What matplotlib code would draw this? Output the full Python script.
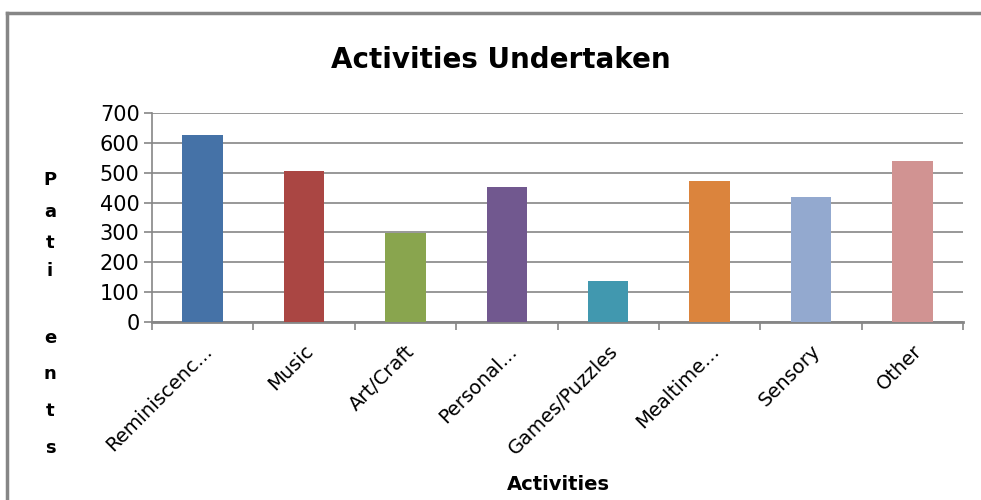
import matplotlib.pyplot as plt
import numpy as np
from matplotlib.lines import Line2D

categories = ["Reminiscenc...", "Music", "Art/Craft", "Personal...", "Games/Puzzles",
              "Mealtime...", "Sensory", "Other"]
patients = [626, 506, 298, 452, 137, 472, 419, 539]
colors = ["#4572A7", "#AA4643", "#89A54E", "#71588F", "#4198AF", "#DB843D", "#93A9CF", "#D19392"]

fig = plt.figure(figsize=(9.81, 5.0), dpi=100)
ax = fig.add_axes([152 / 981, 1 - 322 / 500, (963 - 152) / 981, (322 - 113) / 500])

x = np.arange(len(categories))
ax.bar(x, patients, width=0.4, color=colors, zorder=3)

grey = "#868686"
ax.set_xlim(-0.5, len(categories) - 0.5)
ax.set_ylim(0, 700)
ax.set_yticks(np.arange(0, 701, 100))
ax.yaxis.grid(True, color=grey, linewidth=1.2, zorder=0)
ax.tick_params(axis="y", length=6, color=grey, width=1.2, labelsize=15, pad=3)

# ticks between categories
ax.set_xticks(np.arange(-0.5, len(categories), 1.0))
ax.set_xticklabels([])
ax.tick_params(axis="x", which="major", length=6, color=grey, width=1.2)
ax.set_xticks(x, minor=True)
ax.set_xticklabels(categories, minor=True, rotation=45, ha="right",
                   rotation_mode="anchor", fontsize=14)
ax.tick_params(axis="x", which="minor", length=0, pad=14)

for s in ["top", "right"]:
    ax.spines[s].set_visible(False)
ax.spines["left"].set_color(grey)
ax.spines["bottom"].set_color(grey)
ax.spines["bottom"].set_linewidth(2)
ax.spines["left"].set_linewidth(1.2)

fig.text(0.511, 1 - 60 / 500, "Activities Undertaken", ha="center", va="center",
         fontsize=20, fontweight="bold")
fig.text(558 / 981, 1 - 485 / 500, "Activities", ha="center", va="center",
         fontsize=14, fontweight="bold")

letter_y = [180, 212, 243, 271, 338, 374, 411, 448]
for ch, yy in zip("Patients", letter_y):
    fig.text(50 / 981, 1 - yy / 500, ch, ha="center", va="center",
             fontsize=13, fontweight="bold")

# chart border (top and left only visible)
fig.add_artist(Line2D([7 / 981, 1.0], [1 - 13 / 500, 1 - 13 / 500],
                      transform=fig.transFigure, color=grey, linewidth=2.5))
fig.add_artist(Line2D([7 / 981, 7 / 981], [0, 1 - 13 / 500],
                      transform=fig.transFigure, color=grey, linewidth=2.5))

fig.savefig("out.png", dpi=100)
